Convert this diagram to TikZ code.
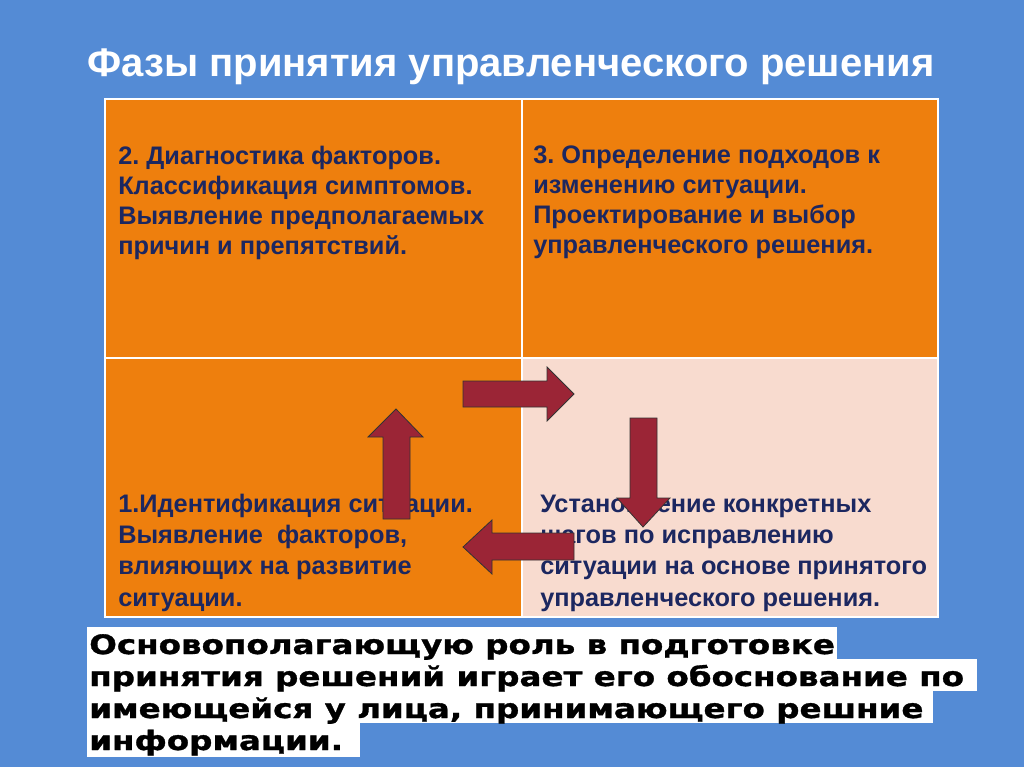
\documentclass[tikz,border=0pt]{standalone}
\usepackage{fontspec}
\setmainfont{Liberation Sans}
\newfontfamily\heavyfont[FakeStretch=1.22, FakeBold=1.2]{DejaVu Sans Bold}
\usetikzlibrary{arrows.meta, calc}
\frenchspacing

\definecolor{slideblue}{HTML}{548BD5}
\definecolor{cellorange}{HTML}{EE7F0D}
\definecolor{cellpink}{HTML}{F8DBCF}
\definecolor{arrowred}{HTML}{9B2536}
\definecolor{textnavy}{HTML}{1C2760}

\tikzset{
  celltext/.style={anchor=base west, align=left, inner sep=0pt, text=textnavy,
    font=\fontsize{19}{22.5}\selectfont\bfseries},
  lowtext/.style={celltext, font=\fontsize{19}{23.5}\selectfont\bfseries},
  blockarrow/.style={fill=arrowred, draw=black!80, line width=0.6pt, line join=miter},
  heavyline/.style={anchor=base west, inner sep=0pt, text=black,
    font=\heavyfont\fontsize{20}{20}\selectfont}
}

\begin{document}
\begin{tikzpicture}[x=0.75pt, y=-0.75pt]
\useasboundingbox (0,0) rectangle (1024,767);
\fill[slideblue] (0,0) rectangle (1024,767);

\node[anchor=base, inner sep=0pt, text=white, font=\fontsize{30}{30}\selectfont\bfseries]
  (title) at (511,76) {Фазы принятия управленческого решения};

% cells
\fill[cellorange] (105,99) rectangle (522,358);
\fill[cellorange] (522,99) rectangle (938,358);
\fill[cellorange] (105,358) rectangle (522,617);
\fill[cellpink] (522,358) rectangle (938,617);
\draw[white, line width=1.5pt] (105,99) rectangle (938,617);
\draw[white, line width=1.5pt] (522,99)--(522,617);
\draw[white, line width=1.5pt] (105,358)--(938,358);

% base of each text = its last line
\node[celltext] (diag) at (118,254) {2. Диагностика факторов.\\Классификация симптомов.\\Выявление предполагаемых\\причин и препятствий.};
\node[celltext] (design) at (533,253) {3. Определение подходов к\\изменению ситуации.\\Проектирование и выбор\\управленческого решения.};
\node[lowtext] (ident) at (118,606) {1.Идентификация ситуации.\\Выявление\ \ факторов,\\влияющих на развитие\\ситуации.};
\node[lowtext] (steps) at (540,606) {Установление конкретных\\шагов по исправлению\\ситуации на основе принятого\\управленческого решения.};

% arrows
\draw[blockarrow] (463,381)--(547,381)--(547,367)--(574,394)--(547,421)--(547,407)--(463,407)--cycle;
\draw[blockarrow] (630,418)--(657,418)--(657,498)--(670,498)--(643,527)--(617,498)--(630,498)--cycle;
\draw[blockarrow] (574,533)--(492,533)--(492,520)--(463,547)--(492,574)--(492,560)--(574,560)--cycle;
\draw[blockarrow] (383,519)--(383,437)--(368,437)--(396,409)--(423,437)--(410,437)--(410,519)--cycle;

% note
\fill[white] (87,627) rectangle (837,659);
\fill[white] (87,659) rectangle (977,691);
\fill[white] (87,691) rectangle (933,723);
\fill[white] (87,723) rectangle (360,757);
\node[heavyline] (note1) at (89,654) {Основополагающую роль в подготовке};
\node[heavyline] (note2) at (89,686) {принятия решений играет его обоснование по};
\node[heavyline] (note3) at (89,718) {имеющейся у лица, принимающего решние};
\node[heavyline] (note4) at (89,750) {информации.};
\end{tikzpicture}
\end{document}
